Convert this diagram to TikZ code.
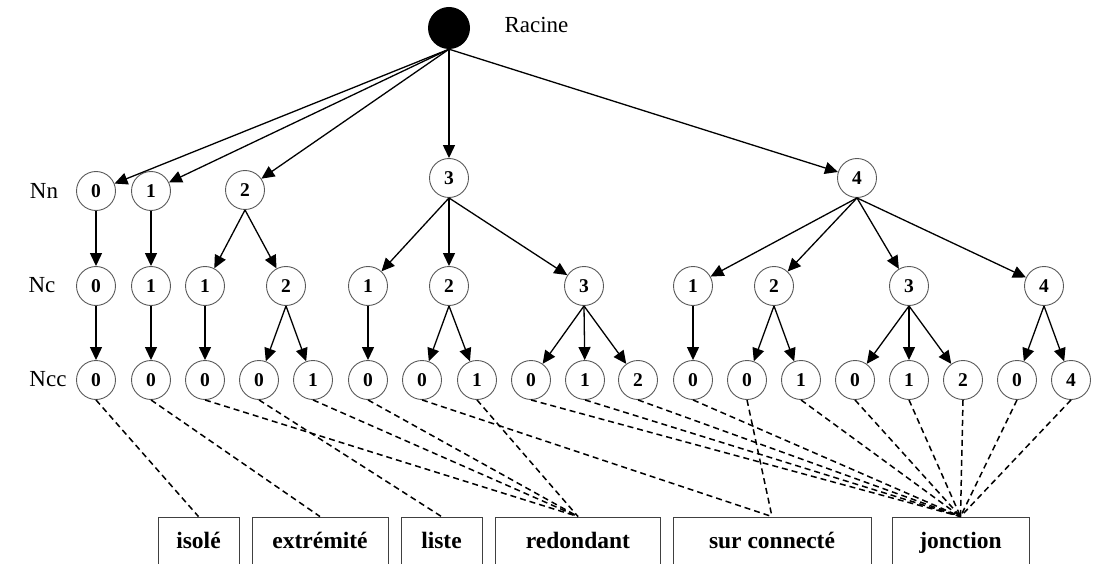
\documentclass[tikz,border=0pt]{standalone}
\usepackage{fontspec}
\setmainfont{Liberation Serif}
\usetikzlibrary{arrows.meta}
\begin{document}
\begin{tikzpicture}[x=1pt,y=-1pt,
  val/.style={circle,draw=black!65,line width=0.9pt,minimum size=39pt,inner sep=0pt,
    font=\fontsize{19.5}{19.5}\selectfont\bfseries},
  lvl/.style={font=\fontsize{23}{23}\selectfont},
  cat/.style={draw=black!75,line width=0.9pt,minimum height=52pt,inner sep=0pt,
    text height=16pt,text depth=5pt,
    font=\fontsize{23.5}{23.5}\selectfont\bfseries},
  arr/.style={line width=1.3pt,-{Triangle[length=13pt,width=12pt]}},
  lnk/.style={line width=1.5pt,dash pattern=on 6pt off 4pt}]
\useasboundingbox (0,0) rectangle (1095,564);
\clip (0,0) rectangle (1095,564);

% root
\node[circle,fill=black,minimum size=42pt,inner sep=0pt] (root) at (449,28) {};
\node[lvl,anchor=west] (rlab) at (501,25) {Racine};

% level labels
\node[lvl] (lnn) at (44,191) {Nn};
\node[lvl] (lnc) at (42,285) {Nc};
\node[lvl] (lncc) at (48,379) {Ncc};

% number of neighbours
\node[val] (nn0) at (96,191) {0};
\node[val] (nn1) at (151,191) {1};
\node[val] (nn2) at (245,190) {2};
\node[val] (nn3) at (449,178) {3};
\node[val] (nn4) at (857,178) {4};

% number of components
\node[val] (nc0) at (96,286) {0};
\node[val] (nc1) at (151,286) {1};
\node[val] (nc2) at (205,286) {1};
\node[val] (nc3) at (286,286) {2};
\node[val] (nc4) at (368,286) {1};
\node[val] (nc5) at (449,286) {2};
\node[val] (nc6) at (584,286) {3};
\node[val] (nc7) at (693,286) {1};
\node[val] (nc8) at (774,286) {2};
\node[val] (nc9) at (909,286) {3};
\node[val] (nc10) at (1044,286) {4};

% leaves
\node[val] (ncc0) at (96,380) {0};
\node[val] (ncc1) at (151,380) {0};
\node[val] (ncc2) at (205,380) {0};
\node[val] (ncc3) at (259,380) {0};
\node[val] (ncc4) at (313,380) {1};
\node[val] (ncc5) at (368,380) {0};
\node[val] (ncc6) at (422,380) {0};
\node[val] (ncc7) at (477,380) {1};
\node[val] (ncc8) at (531,380) {0};
\node[val] (ncc9) at (585,380) {1};
\node[val] (ncc10) at (638,380) {2};
\node[val] (ncc11) at (693,380) {0};
\node[val] (ncc12) at (747,380) {0};
\node[val] (ncc13) at (801,380) {1};
\node[val] (ncc14) at (855,380) {0};
\node[val] (ncc15) at (909,380) {1};
\node[val] (ncc16) at (963,380) {2};
\node[val] (ncc17) at (1017,380) {0};
\node[val] (ncc18) at (1071,380) {4};

% categories
\node[cat,minimum width=81pt] (isole) at (198.5,543) {isolé};
\node[cat,minimum width=136pt] (extr) at (320,543) {extrémité};
\node[cat,minimum width=81pt] (liste) at (441.5,543) {liste};
\node[cat,minimum width=165pt] (redon) at (578,543) {redondant};
\node[cat,minimum width=198pt] (surc) at (772,543) {sur connecté};
\node[cat,minimum width=137pt] (jonc) at (960.5,543) {jonction};

% tree edges
\foreach \t in {nn0,nn1,nn2,nn3,nn4} \draw[arr] (root.south) -- (\t);
\draw[arr] (nn0.south) -- (nc0);
\draw[arr] (nn1.south) -- (nc1);
\foreach \t in {nc2,nc3} \draw[arr] (nn2.south) -- (\t);
\foreach \t in {nc4,nc5,nc6} \draw[arr] (nn3.south) -- (\t);
\foreach \t in {nc7,nc8,nc9,nc10} \draw[arr] (nn4.south) -- (\t);
\draw[arr] (nc0.south) -- (ncc0);
\draw[arr] (nc1.south) -- (ncc1);
\draw[arr] (nc2.south) -- (ncc2);
\foreach \t in {ncc3,ncc4} \draw[arr] (nc3.south) -- (\t);
\draw[arr] (nc4.south) -- (ncc5);
\foreach \t in {ncc6,ncc7} \draw[arr] (nc5.south) -- (\t);
\foreach \t in {ncc8,ncc9,ncc10} \draw[arr] (nc6.south) -- (\t);
\draw[arr] (nc7.south) -- (ncc11);
\foreach \t in {ncc12,ncc13} \draw[arr] (nc8.south) -- (\t);
\foreach \t in {ncc14,ncc15,ncc16} \draw[arr] (nc9.south) -- (\t);
\foreach \t in {ncc17,ncc18} \draw[arr] (nc10.south) -- (\t);

% classification links
\draw[lnk] (ncc0.south) -- (isole.north);
\draw[lnk] (ncc1.south) -- (extr.north);
\draw[lnk] (ncc3.south) -- (liste.north);
\foreach \s in {ncc2,ncc4,ncc5,ncc7} \draw[lnk] (\s.south) -- (redon.north);
\foreach \s in {ncc6,ncc12} \draw[lnk] (\s.south) -- (surc.north);
\foreach \s in {ncc8,ncc9,ncc10,ncc11,ncc13,ncc14,ncc15,ncc16,ncc17,ncc18}
  \draw[lnk] (\s.south) -- (jonc.north);
\end{tikzpicture}
\end{document}
